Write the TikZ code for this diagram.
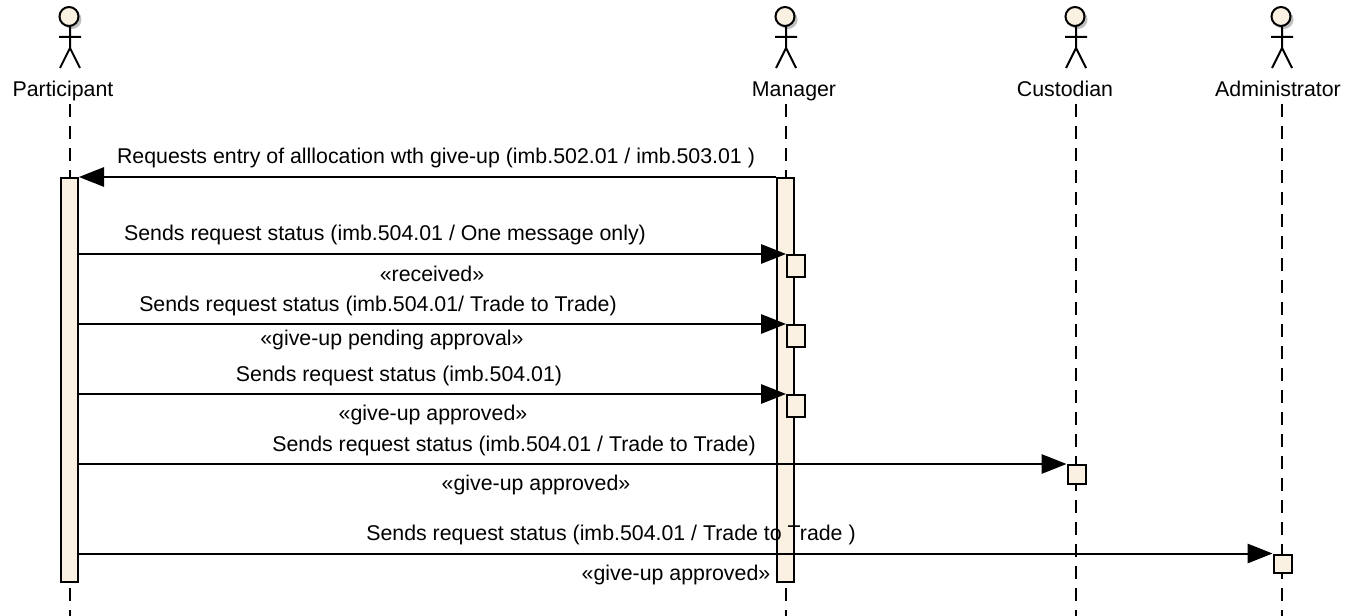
\documentclass[tikz,border=0pt]{standalone}
\usepackage{fontspec}
\setmainfont{Liberation Sans}
\usetikzlibrary{arrows.meta}
\definecolor{barfill}{RGB}{251,241,227}

\begin{document}
\begin{tikzpicture}[
x=0.75pt, y=-0.75pt,
msgtext/.style={inner sep=0pt, font=\fontsize{16}{18}\selectfont},
actorname/.style={msgtext, text height=12pt, text depth=5pt},
lifeline/.style={line width=1.5pt, dash pattern=on 9.75pt off 6.75pt},
lifebar/.style={rectangle, draw=black, fill=barfill, line width=1.5pt, inner sep=0pt, minimum width=12.75pt, anchor=north},
callbox/.style={rectangle, draw=black, fill=barfill, line width=1.5pt, inner sep=0pt, minimum width=13.5pt, minimum height=14pt, anchor=north west},
msg/.style={line width=1.5pt, -{Triangle[length=18.75pt,width=14.5pt]}},
actorman/.pic={
    \fill[black!25] (2,19.5) circle (9.5);
    \draw[line width=1.5pt, fill=barfill] (-1,16.5) circle (9.5);
    \draw[line width=1.5pt] (0,26) -- (0,48) (-11,37) -- (11,37) (-10,68) -- (0,48) -- (10,68);
}
]
\useasboundingbox (0,0) rectangle (1345,616);

% actors
\pic at (70,0) {actorman};
\pic at (786,0) {actorman};
\pic at (1076,0) {actorman};
\pic at (1282,0) {actorman};
\node [actorname] (part) at (63,92) {Participant};
\node [actorname] (mgr) at (794,92) {Manager};
\node [actorname] (cust) at (1065,92) {Custodian};
\node [actorname] (admin) at (1278,92) {Administrator};

\coordinate (partend) at (70,616);
\coordinate (mgrend) at (786,616);
\coordinate (custend) at (1076,616);
\coordinate (adminend) at (1282,616);
\draw [lifeline] (part.south -| partend) -- (partend);
\draw [lifeline] (mgr.south -| mgrend) -- (mgrend);
\draw [lifeline] (cust.south -| custend) -- (custend);
\draw [lifeline] (admin.south -| adminend) -- (adminend);

% activations
\node [lifebar, minimum height=303pt] (partbar) at (69.5,177) {};
\node [lifebar, minimum height=303pt] (mgrbar) at (785.5,177) {};

% messages
\node [callbox, minimum height=16.5pt] (mgrcall1) at (786,254) {};
\node [callbox, minimum height=16.5pt] (mgrcall2) at (786,324) {};
\node [callbox, minimum height=16.5pt] (mgrcall3) at (786,394) {};
\node [callbox] (custcall) at (1066.5,464) {};
\node [callbox] (admincall) at (1272.5,553.5) {};

\draw [msg] (mgrbar.north west) -- (partbar.north east);
\draw [msg] (partbar.east |- mgrcall1.north west) -- (mgrcall1.north west);
\draw [msg] (partbar.east |- mgrcall2.north west) -- (mgrcall2.north west);
\draw [msg] (partbar.east |- mgrcall3.north west) -- (mgrcall3.north west);
\draw [msg] (partbar.east |- custcall.north west) -- (custcall.north west);
\draw [msg] (partbar.east |- admincall.north west) -- (admincall.north west);

% labels
\node [msgtext] (lab1) at (436,158) {Requests entry of alllocation wth give-up (imb.502.01 / imb.503.01 )};
\node [msgtext] (lab2) at (385,235) {Sends request status (imb.504.01 / One message only)};
\node [msgtext] (lab2b) at (432,274) {«received»};
\node [msgtext] (lab3) at (378,306) {Sends request status (imb.504.01/ Trade to Trade)};
\node [msgtext] (lab3b) at (392,340) {«give-up pending approval»};
\node [msgtext] (lab4) at (399,376) {Sends request status (imb.504.01)};
\node [msgtext] (lab4b) at (433,415) {«give-up approved»};
\node [msgtext] (lab5) at (514,446) {Sends request status (imb.504.01 / Trade to Trade)};
\node [msgtext] (lab5b) at (536,485) {«give-up approved»};
\node [msgtext] (lab6) at (611,535) {Sends request status (imb.504.01 / Trade to Trade )};
\node [msgtext] (lab6b) at (676,575) {«give-up approved»};
\end{tikzpicture}
\end{document}
